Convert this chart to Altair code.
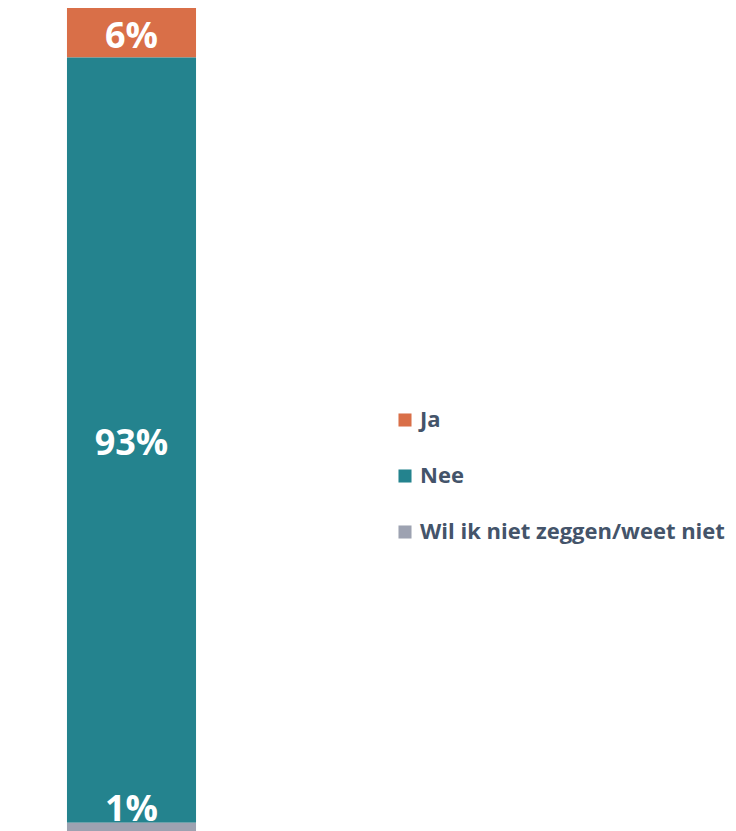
import altair as alt
import pandas as pd

categories = ["Ja", "Nee", "Wil ik niet zeggen/weet niet"]
values = [6, 93, 1]
labels = ["6%", "93%", "1%"]
stack_rank = [3, 2, 1]
colors = ["#D96F48", "#24838E", "#9DA2B1"]

df = pd.DataFrame({
    "groep": ["Totaal"] * 3,
    "antwoord": categories,
    "waarde": values,
    "label": labels,
    "rang": stack_rank,
})

base = alt.Chart(df).transform_stack(
    stack="waarde", groupby=["groep"], as_=["start", "eind"],
    sort=[alt.SortField("rang", order="ascending")]
).transform_calculate(mid="(datum.start + datum.eind) / 2")

x_enc = alt.X("groep:N", axis=None,
              scale=alt.Scale(paddingInner=0, paddingOuter=0.457))
y_scale = alt.Scale(domain=[0, 100], nice=False, zero=True)

bars = base.mark_bar().encode(
    x=x_enc,
    y=alt.Y("start:Q", axis=None, scale=y_scale),
    y2="eind:Q",
    color=alt.Color(
        "antwoord:N",
        scale=alt.Scale(domain=categories, range=colors),
        sort=categories,
        legend=alt.Legend(
            title=None, orient="none", legendX=386, legendY=401,
            symbolType="square", symbolSize=170, symbolStrokeWidth=0,
            labelFont="Open Sans", labelFontWeight="bold", labelFontSize=22,
            labelColor="#44546A", rowPadding=34, labelOffset=4, padding=0,
            labelLimit=400,
        ),
    ),
)

text_mid = base.transform_filter("datum.rang > 1").mark_text(
    font="Open Sans", fontWeight="bold", fontSize=36, color="white",
    baseline="middle", align="center", dy=4,
).encode(
    x=x_enc,
    y=alt.Y("mid:Q", scale=y_scale),
    text="label:N",
)

text_low = base.transform_filter("datum.rang == 1").mark_text(
    font="Open Sans", fontWeight="bold", fontSize=36, color="white",
    baseline="bottom", align="center", dy=6,
).encode(
    x=x_enc,
    y=alt.Y("eind:Q", scale=y_scale),
    text="label:N",
)

chart = alt.layer(bars, text_mid, text_low).properties(
    width=247, height=823, padding=0
).configure_view(stroke=None)

chart.save("out.html", embed_options={"renderer": "svg", "actions": False})
